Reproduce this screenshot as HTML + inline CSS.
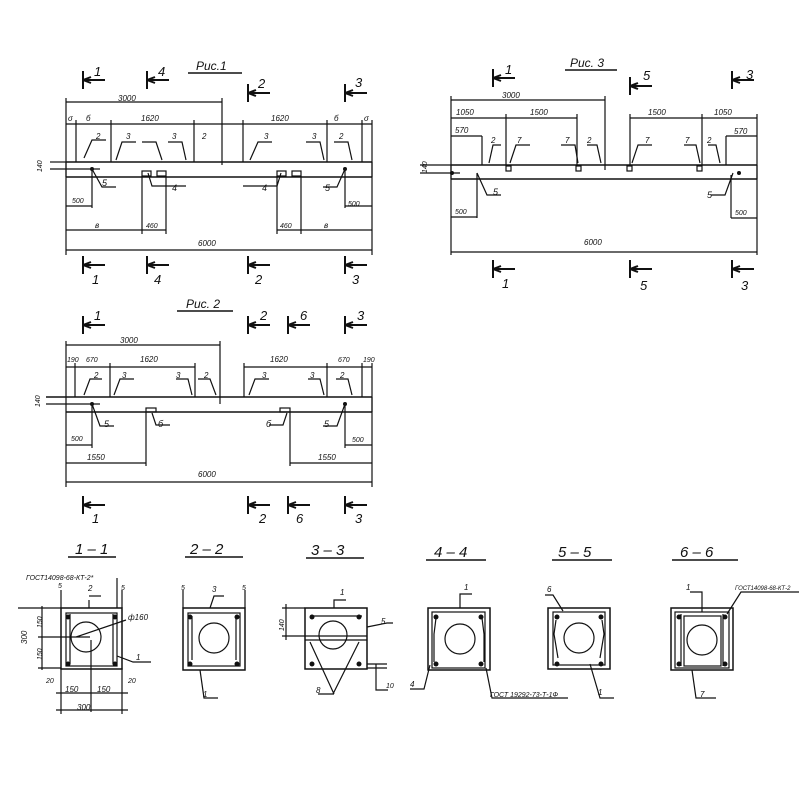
<!DOCTYPE html>
<html><head><meta charset="utf-8"><style>
html,body{margin:0;padding:0;background:#fff;}
svg{display:block}
text{font-family:"Liberation Sans","DejaVu Sans",sans-serif;font-style:italic;fill:#111;}
</style></head><body>
<svg width="800" height="800" viewBox="0 0 800 800" xmlns="http://www.w3.org/2000/svg">
<defs>
<g id="mt"><path d="M0,-9V9M0,0H22M0,0l8,-3M0,0l8,3" stroke="#111" stroke-width="2" fill="none"/></g>
</defs>
<g stroke="#111" stroke-width="1.2" fill="none">
<!-- ===== Рис.1 ===== -->
<line x1="188" y1="73" x2="242" y2="73" stroke-width="1.5"/>
<line x1="66" y1="162" x2="372" y2="162" stroke-width="1.6"/>
<line x1="66" y1="177" x2="372" y2="177" stroke-width="1.6"/>
<line x1="66" y1="162" x2="66" y2="177"/><line x1="372" y1="162" x2="372" y2="177"/>
<line x1="50" y1="162" x2="66" y2="162"/><line x1="50" y1="169" x2="100" y2="169"/>
<line x1="66" y1="102" x2="222" y2="102"/><line x1="222" y1="98" x2="222" y2="165"/>
<line x1="66" y1="124" x2="372" y2="124"/>
<line x1="66" y1="98" x2="66" y2="255"/><line x1="372" y1="120" x2="372" y2="255"/>
<line x1="76" y1="120" x2="76" y2="162"/><line x1="111" y1="120" x2="111" y2="162"/>
<line x1="194" y1="120" x2="194" y2="162"/><line x1="243" y1="120" x2="243" y2="162"/>
<line x1="327" y1="120" x2="327" y2="162"/><line x1="362" y1="120" x2="362" y2="162"/>
<path d="M84,158l8,-18h14M116,160l6,-18h14M162,160l-6,-18h-14M186,160l-4,-18h-14M250,160l8,-18h14M324,160l-4,-18h-14M352,160l-4,-18h-14"/>
<path d="M92,169l10,18h14M148,173l4,13h34M281,173l-4,13h-34M345,169l-8,18h-14"/>
<rect x="142" y="171" width="9" height="5"/><rect x="157" y="171" width="9" height="5"/>
<rect x="277" y="171" width="9" height="5"/><rect x="292" y="171" width="9" height="5"/>
<line x1="92" y1="169" x2="92" y2="208"/><line x1="345" y1="169" x2="345" y2="208"/>
<line x1="66" y1="206" x2="92" y2="206"/><line x1="345" y1="206" x2="372" y2="206"/>
<line x1="142" y1="176" x2="142" y2="234"/><line x1="166" y1="176" x2="166" y2="234"/>
<line x1="277" y1="176" x2="277" y2="234"/><line x1="301" y1="176" x2="301" y2="234"/>
<line x1="66" y1="230" x2="166" y2="230"/><line x1="277" y1="230" x2="372" y2="230"/>
<line x1="66" y1="250" x2="372" y2="250"/>
</g>
<g fill="#111">
<circle cx="92" cy="169" r="2"/><circle cx="345" cy="169" r="2"/>
<circle cx="452" cy="173" r="2"/><circle cx="739" cy="173" r="2"/>
<circle cx="92" cy="404" r="2"/><circle cx="345" cy="404" r="2"/>
</g>
<use href="#mt" x="83" y="80"/><use href="#mt" x="147" y="80"/><use href="#mt" x="248" y="93"/><use href="#mt" x="345" y="93"/>
<use href="#mt" x="83" y="265"/><use href="#mt" x="147" y="265"/><use href="#mt" x="248" y="265"/><use href="#mt" x="345" y="265"/>
<g font-size="10">
<text x="196" y="70" font-size="12">Рис.1</text>
<text x="94" y="76" font-size="13">1</text><text x="158" y="76" font-size="13">4</text><text x="258" y="88" font-size="13">2</text><text x="355" y="87" font-size="13">3</text>
<text x="118" y="101" font-size="8">3000</text>
<text x="68" y="121" font-size="8">σ</text><text x="86" y="121" font-size="8">б</text><text x="141" y="121" font-size="8">1620</text>
<text x="271" y="121" font-size="8">1620</text><text x="334" y="121" font-size="8">б</text><text x="364" y="121" font-size="8">σ</text>
<text x="96" y="139" font-size="8">2</text><text x="126" y="139" font-size="8">3</text><text x="172" y="139" font-size="8">3</text><text x="202" y="139" font-size="8">2</text>
<text x="264" y="139" font-size="8">3</text><text x="312" y="139" font-size="8">3</text><text x="339" y="139" font-size="8">2</text>
<text x="102" y="186" font-size="9">5</text><text x="172" y="191" font-size="9">4</text><text x="262" y="191" font-size="9">4</text><text x="325" y="191" font-size="9">5</text>
<text x="72" y="203" font-size="7">500</text><text x="348" y="206" font-size="7">500</text>
<text x="95" y="228" font-size="8">в</text><text x="146" y="228" font-size="7">460</text><text x="280" y="228" font-size="7">460</text><text x="324" y="228" font-size="8">в</text>
<text x="198" y="246" font-size="8">6000</text>
<text x="36" y="170" font-size="7" transform="rotate(-90 40 168)">140</text>
<text x="92" y="284" font-size="13">1</text><text x="154" y="284" font-size="13">4</text><text x="255" y="284" font-size="13">2</text><text x="352" y="284" font-size="13">3</text>
</g>

<!-- ===== Рис.3 ===== -->
<g stroke="#111" stroke-width="1.2" fill="none">
<line x1="565" y1="70" x2="617" y2="70" stroke-width="1.5"/>
<line x1="451" y1="165" x2="757" y2="165" stroke-width="1.6"/>
<line x1="451" y1="179" x2="757" y2="179" stroke-width="1.6"/>
<line x1="451" y1="165" x2="451" y2="179"/><line x1="757" y1="165" x2="757" y2="179"/>
<line x1="420" y1="165" x2="451" y2="165"/><line x1="420" y1="173" x2="460" y2="173"/>
<line x1="451" y1="100" x2="605" y2="100"/><line x1="605" y1="96" x2="605" y2="170"/>
<line x1="451" y1="118" x2="577" y2="118"/><line x1="630" y1="118" x2="757" y2="118"/>
<line x1="451" y1="136" x2="482" y2="136"/><line x1="726" y1="136" x2="757" y2="136"/>
<line x1="451" y1="96" x2="451" y2="255"/><line x1="757" y1="114" x2="757" y2="255"/>
<line x1="482" y1="136" x2="482" y2="165"/><line x1="726" y1="136" x2="726" y2="165"/>
<line x1="506" y1="114" x2="506" y2="165"/><line x1="577" y1="114" x2="577" y2="165"/>
<line x1="630" y1="114" x2="630" y2="165"/><line x1="702" y1="114" x2="702" y2="165"/>
<rect x="506" y="166" width="5" height="5"/><rect x="576" y="166" width="5" height="5"/><rect x="627" y="166" width="5" height="5"/><rect x="697" y="166" width="5" height="5"/>
<path d="M489,163l4,-18h8M510,163l6,-18h14M578,163l-3,-18h-14M601,163l-4,-18h-10M632,163l6,-18h14M700,163l-4,-18h-12M720,163l-4,-18h-8"/>
<path d="M477,173l10,22h14M733,173l-8,22h-14"/>
<line x1="477" y1="173" x2="477" y2="218"/><line x1="731" y1="175" x2="731" y2="218"/>
<line x1="451" y1="217" x2="477" y2="217"/><line x1="731" y1="218" x2="757" y2="218"/>
<line x1="451" y1="252" x2="757" y2="252"/>
</g>
<use href="#mt" x="493" y="78"/><use href="#mt" x="630" y="86"/><use href="#mt" x="732" y="80"/>
<use href="#mt" x="493" y="269"/><use href="#mt" x="630" y="269"/><use href="#mt" x="732" y="269"/>
<g font-size="8">
<text x="570" y="67" font-size="12">Рис. 3</text>
<text x="505" y="74" font-size="13">1</text><text x="643" y="80" font-size="13">5</text><text x="746" y="79" font-size="13">3</text>
<text x="502" y="98">3000</text>
<text x="456" y="115">1050</text><text x="530" y="115">1500</text><text x="648" y="115">1500</text><text x="714" y="115">1050</text>
<text x="455" y="133">570</text><text x="734" y="134">570</text>
<text x="491" y="143">2</text><text x="517" y="143">7</text><text x="565" y="143">7</text><text x="587" y="143">2</text>
<text x="645" y="143">7</text><text x="685" y="143">7</text><text x="707" y="143">2</text>
<text x="493" y="195" font-size="9">5</text><text x="707" y="198" font-size="9">5</text>
<text x="455" y="214" font-size="7">500</text><text x="735" y="215" font-size="7">500</text>
<text x="584" y="245">6000</text>
<text x="419" y="175" font-size="7" transform="rotate(-90 422 170)">140</text>
<text x="502" y="288" font-size="13">1</text><text x="640" y="290" font-size="13">5</text><text x="741" y="290" font-size="13">3</text>
</g>

<!-- ===== Рис.2 ===== -->
<g stroke="#111" stroke-width="1.2" fill="none">
<line x1="177" y1="311" x2="233" y2="311" stroke-width="1.5"/>
<line x1="46" y1="397" x2="372" y2="397" stroke-width="1.6"/>
<line x1="66" y1="412" x2="372" y2="412" stroke-width="1.6"/>
<line x1="372" y1="397" x2="372" y2="412"/>
<line x1="46" y1="404" x2="100" y2="404"/>
<line x1="66" y1="345" x2="220" y2="345"/><line x1="220" y1="341" x2="220" y2="404"/>
<line x1="66" y1="367" x2="195" y2="367"/><line x1="244" y1="367" x2="372" y2="367"/>
<line x1="66" y1="341" x2="66" y2="487"/><line x1="372" y1="363" x2="372" y2="487"/>
<line x1="75" y1="363" x2="75" y2="397"/><line x1="110" y1="363" x2="110" y2="397"/><line x1="195" y1="363" x2="195" y2="397"/>
<line x1="244" y1="363" x2="244" y2="397"/><line x1="327" y1="363" x2="327" y2="397"/><line x1="362" y1="363" x2="362" y2="397"/>
<path d="M84,395l6,-16h12M114,395l6,-16h14M192,395l-4,-16h-12M216,395l-6,-16h-12M249,395l6,-16h14M324,395l-4,-16h-12M352,395l-4,-16h-12"/>
<path d="M92,404l8,22h14M152,413l4,12h14M287,413l-4,12h-14M345,404l-8,22h-14"/>
<rect x="146" y="408" width="10" height="4"/><rect x="280" y="408" width="10" height="4"/>
<line x1="92" y1="404" x2="92" y2="448"/><line x1="345" y1="404" x2="345" y2="448"/>
<line x1="66" y1="445" x2="92" y2="445"/><line x1="345" y1="445" x2="372" y2="445"/>
<line x1="146" y1="412" x2="146" y2="466"/><line x1="290" y1="412" x2="290" y2="466"/>
<line x1="66" y1="463" x2="146" y2="463"/><line x1="290" y1="463" x2="372" y2="463"/>
<line x1="66" y1="482" x2="372" y2="482"/>
</g>
<use href="#mt" x="83" y="325"/><use href="#mt" x="248" y="325"/><use href="#mt" x="288" y="325"/><use href="#mt" x="345" y="325"/>
<use href="#mt" x="83" y="505"/><use href="#mt" x="248" y="505"/><use href="#mt" x="288" y="505"/><use href="#mt" x="345" y="505"/>
<g font-size="8">
<text x="186" y="308" font-size="12">Рис. 2</text>
<text x="94" y="320" font-size="13">1</text><text x="260" y="320" font-size="13">2</text><text x="300" y="320" font-size="13">6</text><text x="357" y="320" font-size="13">3</text>
<text x="120" y="343">3000</text>
<text x="67" y="362" font-size="7">190</text><text x="86" y="362" font-size="7">670</text><text x="140" y="362">1620</text>
<text x="270" y="362">1620</text><text x="338" y="362" font-size="7">670</text><text x="363" y="362" font-size="7">190</text>
<text x="94" y="378">2</text><text x="122" y="378">3</text><text x="176" y="378">3</text><text x="204" y="378">2</text>
<text x="262" y="378">3</text><text x="310" y="378">3</text><text x="340" y="378">2</text>
<text x="104" y="427" font-size="9">5</text><text x="158" y="427" font-size="9">б</text><text x="266" y="427" font-size="9">б</text><text x="324" y="427" font-size="9">5</text>
<text x="71" y="441" font-size="7">500</text><text x="352" y="442" font-size="7">500</text>
<text x="87" y="460">1550</text><text x="318" y="460">1550</text>
<text x="198" y="477">6000</text>
<text x="34" y="405" font-size="7" transform="rotate(-90 38 403)">140</text>
<text x="92" y="523" font-size="13">1</text><text x="259" y="523" font-size="13">2</text><text x="296" y="523" font-size="13">6</text><text x="355" y="523" font-size="13">3</text>
</g>

<!-- ===== Sections ===== -->
<g stroke="#111" stroke-width="1.2" fill="none">
<line x1="68" y1="557" x2="116" y2="557" stroke-width="1.5"/><line x1="185" y1="557" x2="243" y2="557" stroke-width="1.5"/>
<line x1="306" y1="558" x2="364" y2="558" stroke-width="1.5"/><line x1="426" y1="560" x2="486" y2="560" stroke-width="1.5"/>
<line x1="552" y1="560" x2="612" y2="560" stroke-width="1.5"/><line x1="672" y1="560" x2="738" y2="560" stroke-width="1.5"/>
<!-- 1-1 -->
<rect x="61" y="608" width="61" height="61" stroke-width="1.5"/>
<rect x="66" y="613" width="51" height="53"/>
<line x1="70" y1="614" x2="70" y2="664"/><line x1="113" y1="614" x2="113" y2="664"/>
<circle cx="86" cy="637" r="15"/>
<line x1="61" y1="590" x2="61" y2="608"/><line x1="122" y1="590" x2="122" y2="608"/>
<path d="M18,608H61M42,606V670M38,637H90M38,668H61M76,637l50,-17M117,656l16,6h18"/>
<path d="M117,608V578M61,668v24M122,668v24M56,693H128M56,710H128M91,640V712M61,668v46M122,668v46"/>
<line x1="89" y1="600" x2="89" y2="608"/><line x1="89" y1="596" x2="101" y2="596"/>
<!-- 2-2 -->
<rect x="183" y="608" width="62" height="62" stroke-width="1.5"/>
<rect x="188" y="613" width="52" height="53"/>
<line x1="192" y1="616" x2="192" y2="660"/><line x1="236" y1="616" x2="236" y2="660"/>
<circle cx="214" cy="638" r="15"/>
<line x1="183" y1="590" x2="183" y2="608"/><line x1="245" y1="590" x2="245" y2="608"/>
<path d="M210,608l4,-12h10M200,670l4,28h14"/>
<!-- 3-3 -->
<rect x="305" y="608" width="62" height="61" stroke-width="1.5"/>
<line x1="310" y1="616" x2="362" y2="616"/>
<line x1="305" y1="636" x2="367" y2="636"/><line x1="305" y1="640" x2="367" y2="640"/>
<circle cx="333" cy="635" r="14"/>
<path d="M310,642l24,52M359,642l-26,52M318,694H334M334,608l0,-8h12M282,608H305M282,636H305M286,604V640M367,664h20M367,668h20M376,664V690h12M367,627l20,-4h6"/>
<!-- 4-4 -->
<rect x="428" y="608" width="62" height="62" stroke-width="1.5"/>
<rect x="432" y="612" width="53" height="56"/>
<circle cx="460" cy="639" r="15"/>
<path d="M436,618l-2,16v28M482,618l2,16v28M460,608v-14h12M430,665l-6,24h-14M486,668l6,30h76"/>
<!-- 5-5 -->
<rect x="548" y="608" width="62" height="61" stroke-width="1.5"/>
<rect x="553" y="612" width="52" height="53"/>
<circle cx="579" cy="638" r="15"/>
<path d="M556,620l-2,14l4,24M602,620l2,14l-4,24M563,611l-10,-16h-8M590,664l10,34h14"/>
<!-- 6-6 -->
<rect x="671" y="608" width="62" height="62" stroke-width="1.5"/>
<rect x="675" y="612" width="54" height="56"/>
<line x1="681" y1="614" x2="681" y2="666"/><line x1="723" y1="614" x2="723" y2="666"/>
<rect x="684" y="616" width="37" height="50"/>
<circle cx="702" cy="640" r="15"/>
<path d="M702,612V592h-12M727,614l14,-22h58M692,670l4,28h20"/>
</g>
<g fill="#111">
<circle cx="68" cy="617" r="2.5"/><circle cx="115" cy="617" r="2.5"/><circle cx="68" cy="664" r="2.5"/><circle cx="115" cy="664" r="2.5"/>
<circle cx="190" cy="617" r="2.5"/><circle cx="237" cy="617" r="2.5"/><circle cx="190" cy="664" r="2.5"/><circle cx="237" cy="664" r="2.5"/>
<circle cx="312" cy="617" r="2.5"/><circle cx="359" cy="617" r="2.5"/><circle cx="312" cy="664" r="2.5"/><circle cx="359" cy="664" r="2.5"/>
<circle cx="436" cy="617" r="2.5"/><circle cx="481" cy="617" r="2.5"/><circle cx="436" cy="664" r="2.5"/><circle cx="481" cy="664" r="2.5"/>
<circle cx="557" cy="617" r="2.5"/><circle cx="601" cy="617" r="2.5"/><circle cx="557" cy="664" r="2.5"/><circle cx="601" cy="664" r="2.5"/>
<circle cx="679" cy="617" r="2.5"/><circle cx="725" cy="617" r="2.5"/><circle cx="679" cy="664" r="2.5"/><circle cx="725" cy="664" r="2.5"/>
</g>
<g>
<text x="75" y="554" font-size="15">1 – 1</text><text x="190" y="554" font-size="15">2 – 2</text><text x="311" y="555" font-size="15">3 – 3</text>
<text x="434" y="557" font-size="15">4 – 4</text><text x="558" y="557" font-size="15">5 – 5</text><text x="680" y="557" font-size="15">6 – 6</text>
<text x="26" y="580" font-size="7">ГОСТ14098-68-КТ-2*</text>
<text x="58" y="588" font-size="7">5</text><text x="88" y="591" font-size="8">2</text><text x="121" y="590" font-size="7">5</text>
<text x="128" y="620" font-size="8">ф160</text><text x="136" y="660" font-size="8">1</text>
<text x="18" y="645" font-size="8" transform="rotate(-90 22 640)">300</text>
<text x="34" y="628" font-size="7" transform="rotate(-90 38 624)">150</text>
<text x="34" y="660" font-size="7" transform="rotate(-90 38 656)">150</text>
<text x="46" y="683" font-size="7">20</text><text x="128" y="683" font-size="7">20</text>
<text x="65" y="692" font-size="8">150</text><text x="97" y="692" font-size="8">150</text><text x="77" y="710" font-size="8">300</text>
<text x="181" y="590" font-size="7">5</text><text x="212" y="592" font-size="8">3</text><text x="242" y="590" font-size="7">5</text><text x="203" y="697" font-size="8">1</text>
<text x="340" y="595" font-size="8">1</text><text x="381" y="624" font-size="8">5</text><text x="316" y="693" font-size="8">8</text>
<text x="277" y="632" font-size="7" transform="rotate(-90 280 628)">140</text>
<text x="386" y="688" font-size="7">10</text>
<text x="464" y="590" font-size="8">1</text><text x="410" y="687" font-size="8">4</text>
<text x="490" y="697" font-size="7">ГОСТ 19292-73-Т-1Ф</text>
<text x="547" y="592" font-size="8">6</text><text x="598" y="695" font-size="8">1</text>
<text x="686" y="590" font-size="8">1</text><text x="735" y="590" font-size="6">ГОСТ14098-68-КТ-2</text><text x="700" y="697" font-size="8">7</text>
</g>
</svg>
</body></html>
